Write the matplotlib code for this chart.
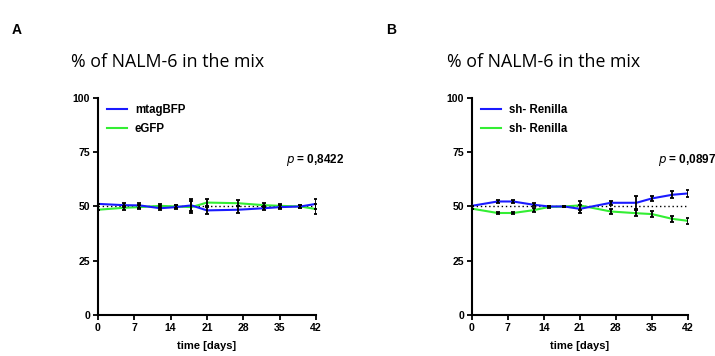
import matplotlib
matplotlib.use('Agg')
from matplotlib import pyplot as plt
import numpy as np

plt.rcParams['font.family'] = ['Liberation Sans', 'DejaVu Sans']

# time points (days)
days = [0, 5, 8, 12, 15, 18, 21, 27, 32, 35, 39, 42]

# panel A
a_blue = [51.2, 50.6, 50.5, 49.2, 49.7, 50.5, 48.2, 48.5, 49.2, 49.7, 50.0, 51.2]
a_blue_err = [0.0, 1.0, 1.0, 1.0, 0.8, 2.8, 1.5, 1.5, 1.0, 0.8, 0.8, 2.3]
a_green = [48.5, 49.4, 49.7, 50.3, 50.0, 49.7, 51.8, 51.5, 50.6, 50.3, 50.0, 48.8]
a_green_err = [0.0, 1.0, 1.0, 1.0, 0.8, 2.8, 1.5, 1.5, 1.0, 0.8, 0.8, 2.3]
a_labels = ['mtagBFP', 'eGFP']
a_p = '0,8422'

# panel B
b_blue = [50.3, 52.3, 52.3, 50.8, 50.0, 50.0, 48.9, 51.7, 51.7, 53.7, 55.4, 56.0]
b_blue_err = [0.0, 0.6, 0.6, 0.8, 0.4, 0.4, 2.0, 1.0, 3.0, 1.2, 1.5, 1.5]
b_green = [49.0, 47.0, 47.0, 48.3, 49.8, 50.0, 50.5, 47.7, 46.9, 46.5, 44.3, 43.4]
b_green_err = [0.0, 0.6, 0.6, 0.8, 0.4, 0.4, 2.0, 1.0, 1.5, 1.2, 1.5, 1.5]
b_labels = ['sh- Renilla', 'sh- Renilla']
b_p = '0,0897'

blue = '#1a1aff'
green = '#33ee33'

fig = plt.figure(figsize=(7.15, 3.56), dpi=100)
ax_a = fig.add_axes([0.137, 0.115, 0.305, 0.61])
ax_b = fig.add_axes([0.660, 0.115, 0.302, 0.61])

panels = [
    (ax_a, a_blue, a_blue_err, a_green, a_green_err, a_labels, a_p, 'A', 0.017, 0.099),
    (ax_b, b_blue, b_blue_err, b_green, b_green_err, b_labels, b_p, 'B', 0.540, 0.625),
]

for ax, yb, eb, yg, eg, labels, p, letter, lx, tx in panels:
    ax.plot([0, 42], [50, 50], color='black', linestyle=(0, (1, 2)), lw=1.0, zorder=1)
    ax.plot(days, yb, color=blue, lw=1.5, label=labels[0], zorder=3)
    ax.plot(days, yg, color=green, lw=1.5, label=labels[1], zorder=2)
    ax.errorbar(days, yb, yerr=eb, fmt='none', ecolor='black', elinewidth=1.3, capsize=1.6, capthick=1.3, zorder=4)
    ax.errorbar(days, yg, yerr=eg, fmt='none', ecolor='black', elinewidth=1.3, capsize=1.6, capthick=1.3, zorder=4)

    ax.set_xlim(0, 42)
    ax.set_ylim(0, 100)
    ax.set_xticks([0, 7, 14, 21, 28, 35, 42])
    ax.set_yticks([0, 25, 50, 75, 100])
    for s in ['top', 'right']:
        ax.spines[s].set_visible(False)
    for s in ['left', 'bottom']:
        ax.spines[s].set_linewidth(1.5)
    ax.tick_params(direction='out', length=3.5, width=1.3, labelsize=7.6, pad=2)
    for lab in ax.get_xticklabels() + ax.get_yticklabels():
        lab.set_fontweight('bold')
    ax.set_xlabel('time [days]', fontsize=8, fontweight='bold', labelpad=6)

    leg = ax.legend(loc='upper left', bbox_to_anchor=(-0.005, 1.02), frameon=False,
                    prop={'size': 8.3, 'weight': 'bold'}, handlelength=1.7,
                    handletextpad=0.7, labelspacing=0.6)
    ax.text(36.2, 71.5, r'$\bf{\it{p}}$ = ' + p, fontsize=8.5, fontweight='bold',
            va='center', ha='left', clip_on=False)

    fig.text(lx, 0.915, letter, fontsize=10, fontweight='bold', va='center')
    fig.text(tx, 0.826, '% of NALM-6 in the mix', fontsize=12.8, va='center',
             family=['Open Sans', 'DejaVu Sans'])

fig.savefig('out.png', dpi=100)
